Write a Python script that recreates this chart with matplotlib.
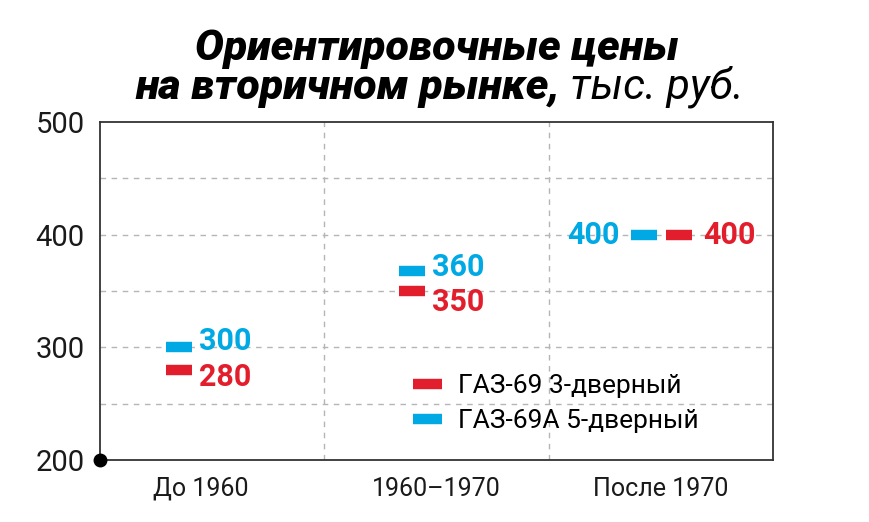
import numpy as np
import matplotlib
matplotlib.use("Agg")
import matplotlib.pyplot as plt
from matplotlib.lines import Line2D
from matplotlib.transforms import ScaledTranslation

# data
categories = ["До 1960", "1960–1970", "После 1970"]
gaz69 = [280, 350, 400]      # 3-дверный
gaz69a = [300, 360, 400]     # 5-дверный
series_names = ["ГАЗ-69 3-дверный", "ГАЗ-69А 5-дверный"]
yticks = [200, 300, 400, 500]

RED = "#e31e2c"
BLUE = "#00a9e4"
narrow = ["Roboto", "DejaVu Sans"]

# marker placement inside each category (x in category units, y nudge in px)
red_x = [0.35, 1.39, 2.58]
blue_x = [0.35, 1.39, 2.425]
red_dy = [0, 0, 0]
blue_dy = [0, 9, 0]
# label offsets (px) from the marker centre
red_lab = [(20, -7, "left"), (20, -11, "left"), (24, 0, "left")]
blue_lab = [(20, 6, "left"), (20, 4, "left"), (-24, 0, "right")]
half_w = 0.058

fig = plt.figure(figsize=(8.7, 5.22), dpi=100)
ax = fig.add_axes([100 / 870, 1 - 460 / 522, 673 / 870, 338 / 522])
ax.set_xlim(0, 3)
ax.set_ylim(200, 500)

for y in [250, 300, 350, 400, 450]:
    ax.axhline(y, color="#b5b5b5", lw=1, ls=(0, (4, 4)), zorder=0)
for x in [1, 2]:
    ax.axvline(x, color="#b5b5b5", lw=1, ls=(0, (4, 4)), zorder=0)

def draw(xs, vals, dys, labs, color):
    for x, v, dy, (ox, oy, ha) in zip(xs, vals, dys, labs):
        tr = ax.transData + ScaledTranslation(0, dy / 100, fig.dpi_scale_trans)
        ax.plot([x - half_w, x + half_w], [v, v], color=color, lw=7.5,
                solid_capstyle="butt", transform=tr, zorder=3)
        ax.annotate(str(v), (x, v), xycoords=tr, xytext=(ox, oy),
                    textcoords="offset pixels", ha=ha, va="center",
                    color=color, fontsize=22, fontweight="bold",
                    family=["Roboto", "DejaVu Sans"])

draw(red_x, gaz69, red_dy, red_lab, RED)
draw(blue_x, gaz69a, blue_dy, blue_lab, BLUE)

ax.set_yticks(yticks)
ax.set_yticklabels([str(t) for t in yticks], family=narrow, fontsize=21)
ax.set_xticks([0.45, 1.5, 2.5])
ax.set_xticklabels(categories, family=narrow, fontsize=18)
ax.tick_params(axis="both", length=0, colors="#1a1a1a")
ax.tick_params(axis="y", pad=11)
ax.tick_params(axis="x", pad=12)
for s in ax.spines.values():
    s.set_color("#333333")
    s.set_linewidth(1.3)

ax.plot([0], [200], "o", color="black", ms=9, clip_on=False, zorder=5)

handles = [Line2D([], [], color=RED, lw=7.5, solid_capstyle="butt"),
           Line2D([], [], color=BLUE, lw=7.5, solid_capstyle="butt")]
ax.legend(handles, series_names, loc="upper left",
          bbox_to_anchor=(0.465, 0.255), frameon=False,
          prop={"family": narrow, "size": 19}, handlelength=1.1,
          handletextpad=0.6, labelspacing=0.42, borderpad=0, borderaxespad=0)

# title
tfam = ["Roboto", "DejaVu Sans"]
fig.text(437 / 870, 1 - 60 / 522, "Ориентировочные цены", ha="center",
         va="baseline", fontsize=31, fontweight="black", style="italic",
         family=tfam)
t1 = fig.text(0, 1 - 99 / 522, "на вторичном рынке,", ha="left",
              va="baseline", fontsize=31, fontweight="black", style="italic",
              family=tfam)
t2 = fig.text(0, 1 - 99 / 522, " тыс. руб.", ha="left", va="baseline",
              fontsize=31, fontweight="normal", style="italic", family=tfam)
fig.canvas.draw()
r = fig.canvas.get_renderer()
w1 = t1.get_window_extent(r).width
w2 = t2.get_window_extent(r).width
x0 = 440 - (w1 + w2) / 2
t1.set_x(x0 / 870)
t2.set_x((x0 + w1) / 870)

fig.savefig("out.png", dpi=100)
